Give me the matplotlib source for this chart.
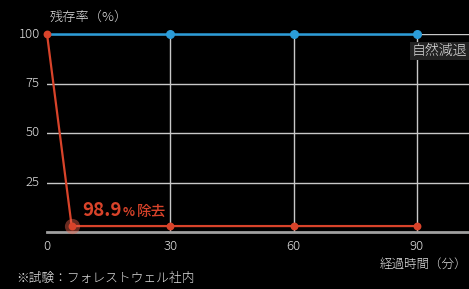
import matplotlib

matplotlib.use("Agg")
import matplotlib.pyplot as plt
from matplotlib.transforms import offset_copy

plt.rcParams["font.family"] = ["Noto Sans CJK JP", "DejaVu Sans"]

minutes_natural = [0, 30, 60, 90]
remain_natural = [100, 100, 100, 100]
minutes_treated = [0, 6, 30, 60, 90]
remain_treated = [100, 3, 3, 3, 3]
x_ticks = [0, 30, 60, 90]
y_ticks = [25, 50, 75, 100]

RED = "#d8432a"
BLUE = "#2b9cd8"
GRID = "#c8c8c8"
TEXT = "#e0e0e0"

fig = plt.figure(figsize=(4.69, 2.89), dpi=100, facecolor="black")
ax = fig.add_axes([47 / 469, (289 - 232) / 289, 1 - 47 / 469, (232 - 34) / 289])
ax.set_facecolor("black")
ax.set_xlim(0, 102.7)
ax.set_ylim(0, 100)

for y in y_ticks:
    ax.axhline(y, color=GRID, lw=1.0, zorder=1)
for x in x_ticks[1:]:
    ax.axvline(x, color=GRID, lw=1.0, zorder=1)
ax.axhline(0, color="#a0a0a0", lw=2.0, zorder=1, clip_on=False)

ax.plot(minutes_natural, remain_natural, color=BLUE, lw=1.8, zorder=3, clip_on=False)
ax.scatter(minutes_natural[1:], remain_natural[1:], s=30, color=BLUE, zorder=4, clip_on=False)

ax.plot(minutes_treated, remain_treated, color=RED, lw=1.6, zorder=5, clip_on=False)
ax.scatter(minutes_treated[1], remain_treated[1], s=120, color="#e8604a", alpha=0.45, linewidths=0,
           zorder=5, clip_on=False)
ax.scatter(minutes_treated, remain_treated, s=32, color=RED, linewidths=0, zorder=6, clip_on=False)

for s in ax.spines.values():
    s.set_visible(False)
ax.set_xticks([])
ax.set_yticks([])

for y in y_ticks:
    ax.text(-1.8, y, str(y), color=TEXT, fontsize=9.5, ha="right", va="center", fontweight="light")
for x in x_ticks:
    ax.text(x, -7.5, str(x), color=TEXT, fontsize=9.5, ha="center", va="center", fontweight="light")

fig.text(50 / 469, 1 - 17 / 289, "残存率（%）", color=TEXT, fontsize=9.5, ha="left", va="center",
         fontweight="light")
fig.text(467 / 469, 1 - 264 / 289, "経過時間（分）", color=TEXT, fontsize=9.0, ha="right", va="center",
         fontweight="light")
fig.text(16 / 469, 1 - 278 / 289, "※試験：フォレストウェル社内", color=TEXT, fontsize=9.2, ha="left",
         va="center", fontweight="light")

ax.text(90 - 1.2, 91.5, "自然減退", color=TEXT, fontsize=10, ha="left", va="center", fontweight="light",
        bbox=dict(boxstyle="square,pad=0.15", fc="#222222", ec="none"), zorder=7)

# removal label: pieces chained left to right on a common baseline
renderer = fig.canvas.get_renderer()
pieces = [("98.9", 13.5, "bold", 0), ("%", 9, "bold", 1), ("除去", 10.5, "medium", 2)]
x0 = 82
for label, size, weight, gap in pieces:
    t = fig.text(0, 0, label, color=RED, fontsize=size, fontweight=weight, ha="left", va="baseline",
                 transform=offset_copy(fig.transFigure, fig=fig, x=(x0 + gap) * 72 / 100,
                                       y=(289 - 216) * 72 / 100, units="points"))
    x0 = x0 + gap + t.get_window_extent(renderer).width

fig.savefig("out.png", dpi=100, facecolor="black")
